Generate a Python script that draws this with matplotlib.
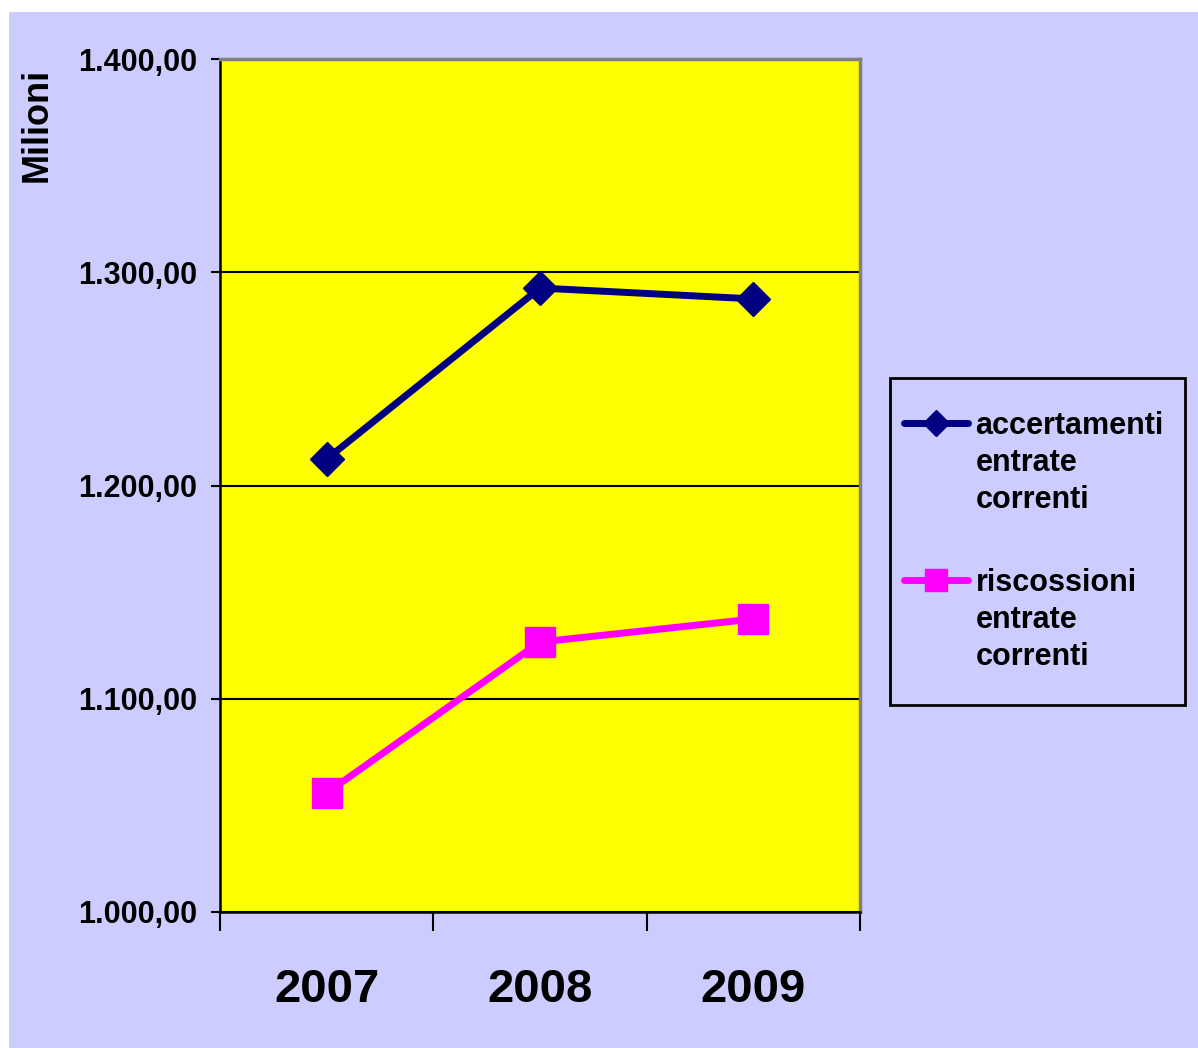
import matplotlib
matplotlib.use("Agg")
import matplotlib.pyplot as plt
import numpy as np
from matplotlib.patches import Rectangle
from matplotlib.legend_handler import HandlerLine2D
from matplotlib.ticker import FuncFormatter, FixedLocator

plt.rcParams['font.family'] = ['Liberation Sans', 'DejaVu Sans']

years = ["2007", "2008", "2009"]
accertamenti = [1212.4, 1292.6, 1287.5]
riscossioni = [1055.8, 1126.6, 1137.4]
series_labels = ["accertamenti\nentrate\ncorrenti", "riscossioni\nentrate\ncorrenti"]
y_ticks = [1000, 1100, 1200, 1300, 1400]

W, H = 1198, 1048
fig = plt.figure(figsize=(W / 100, H / 100), dpi=100, facecolor="white")
fig.patches.append(Rectangle((9 / W, 0), 1 - 9 / W, 1 - 12 / H,
                             transform=fig.transFigure, facecolor="#CCCCFF",
                             edgecolor="none", zorder=-10))

ax = fig.add_axes([220 / W, 1 - 912 / H, (860 - 220) / W, (912 - 59) / H])
ax.set_facecolor("#FFFF00")

x = np.arange(len(years))
ax.plot(x, accertamenti, color="#000080", lw=5, marker="D", markersize=17,
        solid_capstyle="round", label=series_labels[0], zorder=3)
ax.plot(x, riscossioni, color="#FF00FF", lw=5, marker="s", markersize=21,
        solid_capstyle="round", label=series_labels[1], zorder=3)

ax.set_xlim(-0.5, len(years) - 0.5)
ax.set_ylim(y_ticks[0], y_ticks[-1])
ax.set_yticks(y_ticks)
ax.yaxis.set_major_formatter(FuncFormatter(
    lambda v, p: f"{v:,.2f}".replace(",", "X").replace(".", ",").replace("X", ".")))
ax.grid(axis="y", color="black", lw=1.5)
ax.set_axisbelow(True)

# category boundaries carry the tick marks; year labels sit between them
ax.xaxis.set_major_locator(FixedLocator(np.arange(-0.5, len(years), 1.0)))
ax.xaxis.set_minor_locator(FixedLocator(x))
ax.set_xticklabels([], minor=False)
ax.set_xticklabels(years, minor=True)
ax.tick_params(axis="x", which="major", direction="out", length=14, width=1.5)
ax.tick_params(axis="x", which="minor", length=0, pad=40, labelsize=34)
for t in ax.get_xticklabels(minor=True):
    t.set_fontweight("bold")
ax.tick_params(axis="y", direction="out", length=6.5, width=1.5, pad=10, labelsize=22)
for t in ax.get_yticklabels():
    t.set_fontweight("bold")

for s in ("left", "bottom"):
    ax.spines[s].set_color("black")
    ax.spines[s].set_linewidth(1.8)
for s in ("top", "right"):
    ax.spines[s].set_color("#808080")
    ax.spines[s].set_linewidth(2.5)

fig.text(37 / W, 1 - 125 / H, "Milioni", rotation=90, ha="center", va="center",
         fontsize=26, fontweight="bold")


class TopLineHandler(HandlerLine2D):
    """Place the legend key level with the first text line."""
    def create_artists(self, legend, orig_handle, xdescent, ydescent, width,
                       height, fontsize, trans):
        arts = super().create_artists(legend, orig_handle, xdescent, ydescent,
                                      width, height, fontsize, trans)
        for a in arts:
            a.set_ydata(np.asarray(a.get_ydata()) + 1.32 * fontsize)
        return arts


# legend box outline, with more room above and below the entries
fig.patches.append(Rectangle((890 / W, 1 - 705 / H), 295 / W, 327 / H,
                             transform=fig.transFigure, facecolor="#CCCCFF",
                             edgecolor="black", linewidth=2, zorder=1))

handles, labels = ax.get_legend_handles_labels()
leg = fig.legend(handles, labels, loc="upper left",
                 bbox_to_anchor=(890 / W, 1 - 397 / H),
                 prop={"weight": "bold", "size": 22},
                 frameon=False,
                 handlelength=2.1, handletextpad=0.25, labelspacing=1.75,
                 borderpad=0.45, borderaxespad=0,
                 handler_map={matplotlib.lines.Line2D: TopLineHandler(numpoints=1)})
leg.set_zorder(2)
for t in leg.get_texts():
    t.set_linespacing(1.3)
for h in leg.legend_handles:
    h.set_markersize(13 if h.get_marker() == "D" else 16)

fig.savefig("out.png", dpi=100, facecolor=fig.get_facecolor())
